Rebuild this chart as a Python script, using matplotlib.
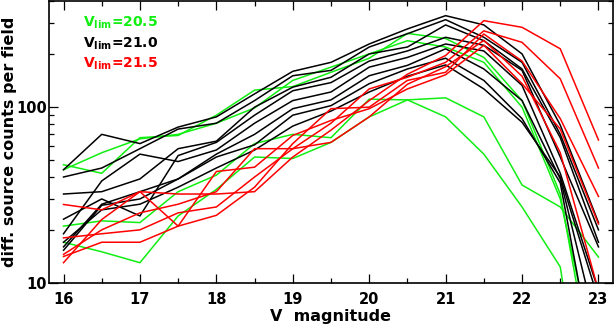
import numpy as np
import matplotlib
matplotlib.use("Agg")
import matplotlib.pyplot as plt
from matplotlib.ticker import MultipleLocator, LogLocator, FixedLocator, NullFormatter, FixedFormatter

# magnitude bins
mags = [16, 16.5, 17, 17.5, 18, 18.5, 19, 19.5, 20, 20.5, 21, 21.5, 22, 22.5, 23]

# V_lim = 20.5 fields (green)
green_fields = [
    [47, 42, 67, 69, 90, 125, 131, 158, 190, 263, 246, 192, 109, 32, 2],
    [44, 55, 66, 70, 81, 99, 142, 169, 201, 239, 220, 180, 100, 30, 3],
    [21, 22.5, 22, 33, 41, 62, 70, 67, 111, 110, 113, 88, 36, 27, 14],
    [17, 15, 13, 24, 34, 52, 51, 63, 88, 110, 88, 54, 27, 12.3, 0.5],
]

# V_lim = 21.0 fields (black)
black_fields = [
    [44, 70, 62, 77, 88, 119, 160, 180, 229, 279, 332, 294, 201, 79, 22],
    [40, 45, 58, 75, 81, 109, 151, 162, 220, 262, 315, 250, 180, 70, 20],
    [32, 33, 39, 58, 64, 100, 130, 148, 201, 220, 294, 239, 165, 67, 17],
    [23, 30, 24, 53, 63, 90, 124, 138, 183, 209, 250, 225, 162, 52, 16],
    [19, 38, 54, 49, 57, 81, 109, 122, 169, 192, 229, 209, 133, 42, 9],
    [16, 28, 33, 39, 54, 70, 98, 110, 151, 173, 215, 165, 109, 39, 5],
    [15.3, 27.6, 30, 39, 52, 61, 90, 102, 136, 165, 190, 142, 86, 37, 2.5],
    [17, 26, 28, 35, 45, 57, 78, 95, 122, 150, 174, 127, 82, 40, 8],
]

# V_lim = 21.5 fields (red)
red_fields = [
    [27.9, 26, 33, 32, 32, 33, 52, 74, 109, 154, 197, 311, 285, 215, 65],
    [18, 19, 20, 25, 27, 40, 58, 81, 127, 148, 180, 272, 234, 145, 45],
    [14.1, 17, 17, 21, 24.2, 35, 62, 98, 100, 142, 158, 261, 183, 86, 31],
    [13, 22.9, 33, 21, 43, 45.5, 69, 84, 98, 127, 153, 225, 136, 75, 21.6],
    [14.5, 20, 25, 28, 33, 58, 58, 63, 88, 135, 170, 240, 150, 55, 9],
]

legend_labels = ["20.5", "21.0", "21.5"]
x_ticks = [16, 17, 18, 19, 20, 21, 22, 23]
y_ticks = [10, 100]
y_tick_labels = ["10", "100"]

GREEN = "#11ee11"
BLACK = "#000000"
RED = "#ff0000"

fig = plt.figure(figsize=(6.15, 3.25), dpi=100)
ax = fig.add_axes([49 / 615, 1 - 282.7 / 325, (613 - 49) / 615, 282.0 / 325])

lw = 1.1
for ys in green_fields:
    ax.plot(mags, ys, color=GREEN, lw=lw)
for ys in black_fields:
    ax.plot(mags, ys, color=BLACK, lw=lw)
for ys in red_fields:
    ax.plot(mags, ys, color=RED, lw=lw)

ax.set_yscale("log")
ax.set_xlim(15.81, 23.19)
ax.set_ylim(10, 404)

ax.xaxis.set_major_locator(FixedLocator(x_ticks))
ax.xaxis.set_minor_locator(MultipleLocator(0.5))
ax.yaxis.set_major_locator(FixedLocator(y_ticks))
ax.yaxis.set_major_formatter(FixedFormatter(y_tick_labels))
ax.yaxis.set_minor_locator(LogLocator(base=10, subs=np.arange(2, 10)))
ax.yaxis.set_minor_formatter(NullFormatter())

for sp in ax.spines.values():
    sp.set_linewidth(1.2)

ax.tick_params(which="both", direction="in", top=True, right=True, width=0.9)
ax.tick_params(which="major", length=6.5)
ax.tick_params(which="minor", length=3.6)
ax.tick_params(axis="x", which="major", pad=7, labelsize=10.5)
ax.tick_params(axis="y", which="major", pad=1.5, labelsize=10.5)
for lab in ax.get_xticklabels() + ax.get_yticklabels():
    lab.set_fontweight("bold")

ax.set_xlabel("V  magnitude", fontsize=11.5, fontweight="bold", labelpad=1)
ax.set_ylabel("diff. source counts per field", fontsize=11.5, fontweight="bold")
ax.yaxis.set_label_coords(-0.056, 0.50)

ys_leg = [0.922, 0.848, 0.777]
for lab, col, yy in zip(legend_labels, [GREEN, BLACK, RED], ys_leg):
    ax.text(0.060, yy, r"$\mathbf{V_{lim}}$" + "=" + lab, color=col, fontsize=10,
            fontweight="bold", transform=ax.transAxes, va="center", ha="left")

fig.savefig("out.png", dpi=100)
